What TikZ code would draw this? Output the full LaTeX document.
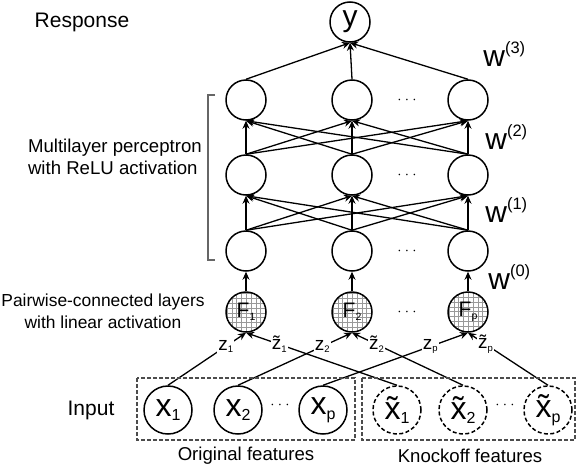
\documentclass[tikz,border=0pt]{standalone}
\usepackage{fontspec}
\setmainfont{Liberation Sans}
\usetikzlibrary{arrows.meta}

\newcommand{\lowidx}[1]{\raisebox{-0.15em}{\scalebox{0.5}{#1}}}
\newcommand{\highidx}[1]{\raisebox{0.42em}{\scalebox{0.55}{#1}}}

\begin{document}
\begin{tikzpicture}[x=0.5pt,y=-0.5pt]
    \tikzstyle{unit} = [circle, draw, line width=0.75pt, minimum size=20pt, inner sep=0pt]
    \tikzstyle{pair} = [unit, font=\fontsize{10.5}{10.5}\selectfont,
        path picture={\draw[black!40, line width=0.3pt, step=2.4pt]
            (path picture bounding box.south west) grid (path picture bounding box.north east);}]
    \tikzstyle{feat} = [unit, minimum size=24pt, font=\fontsize{16}{16}\selectfont]
    \tikzstyle{wire} = [->, >={Stealth[length=4pt, width=3.5pt]}, line width=0.65pt]
    \tikzstyle{zlab} = [fill=white, inner sep=0.6pt, font=\fontsize{9.5}{9.5}\selectfont]
    \tikzstyle{side} = [font=\fontsize{9.3}{11}\selectfont, align=center]
    \tikzstyle{big} = [font=\fontsize{10.5}{12}\selectfont]
    \tikzstyle{gap} = [font=\fontsize{7}{7}\selectfont]
    \tikzstyle{wlab} = [anchor=base west, inner sep=0pt, font=\fontsize{15}{15}\selectfont]
    \tikzstyle{featbox} = [black!70, line width=0.6pt, dash pattern=on 2pt off 1pt]
    \useasboundingbox (0,0) rectangle (582,466);

    % hidden layers
    \foreach \l/\yy in {0/251,1/175,2/100} {
        \foreach \c/\xx in {1/246,2/352,3/468}
            \node[unit] (h\l-\c) at (\xx,\yy) {};
        \node[gap] (hdots\l) at (407,\yy) {$\cdots$};
    }
    \foreach \l/\m in {0/1,1/2}
        \foreach \i in {1,2,3}
            \foreach \j in {1,2,3}
                \draw[wire] (h\l-\i.north) -- (h\m-\j.south);

    % response
    \node[unit, font=\fontsize{15}{15}\selectfont] (resp) at (350,22) {y};
    \foreach \c in {1,2,3}
        \draw[wire] (h2-\c.north) -- (resp.south);

    % pairwise layer
    \foreach \c/\xx/\s in {1/246/1,2/352/2,3/468/p} {
        \node[pair] (F\c) at (\xx,312) {F\lowidx{\s}};
        \draw[wire] (F\c) -- (h0-\c);
    }
    \node[gap] (fdots) at (407,312) {$\cdots$};

    % inputs
    \foreach \c/\xx/\s in {1/168/1,2/238/2,3/323/p}
        \node[feat] (in\c) at (\xx,410) {x\lowidx{\s}};
    \foreach \c/\xx/\s in {1/397/1,2/463/2,3/548/p}
        \node[feat, dash pattern=on 2pt off 1.2pt] (ko\c) at (\xx,410) {\~{x}\lowidx{\s}};
    \node[gap] (indots) at (280,405) {$\cdots$};
    \node[gap] (kodots) at (505,405) {$\cdots$};

    \foreach \c/\s in {1/1,2/2,3/p} {
        \draw[wire] (in\c.north) -- node[zlab, pos=0.74] {z\lowidx{\s}} (F\c.south);
        \draw[wire] (ko\c.north) -- node[zlab, pos=0.78] {\~{z}\lowidx{\s}} (F\c.south);
    }

    \draw[featbox] (137,378) rectangle (355,440);
    \draw[featbox] (362,378) rectangle (575,440);

    % weights
    \node[wlab] (w3) at (483,66) {w\highidx{(3)}};
    \node[wlab] (w2) at (485,149) {w\highidx{(2)}};
    \node[wlab] (w1) at (485,222) {w\highidx{(1)}};
    \node[wlab] (w0) at (488,289) {w\highidx{(0)}};

    % side texts
    \node[side, big] (resptxt) at (82,22) {Response};
    \node[side, align=left, anchor=west] (mlptxt) at (21,157) {Multilayer perceptron\\with ReLU activation};
    \node[side, font=\fontsize{8.7}{11}\selectfont] (pairtxt) at (103,311) {Pairwise-connected layers\\with linear activation};
    \node[side, big] (intxt) at (91,410) {Input};
    \node[side] (origtxt) at (246,456) {Original features};
    \node[side] (kotxt) at (470,456) {Knockoff features};
    \draw[black!60, line width=0.6pt] (215,95) -- (208,95) -- (208,260) -- (215,260);
\end{tikzpicture}
\end{document}
